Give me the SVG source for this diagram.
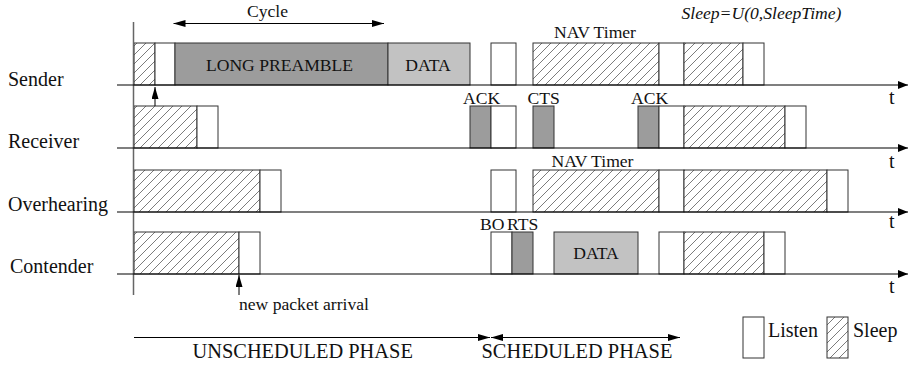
<svg xmlns="http://www.w3.org/2000/svg" width="909" height="366" viewBox="0 0 909 366">
<style>
  text { font-family: "Liberation Serif", "Times New Roman", serif; fill: #111; }
  .lbl { font-size: 20px; }
  .sm { font-size: 17.6px; }
  .box { stroke: #333; stroke-width: 1; }
  .listen { fill: #fff; }
  .sleep { fill: url(#hatch); }
  .dark { fill: #9c9c9c; }
  .light { fill: #c2c2c2; }
  .axis { stroke: #000; stroke-width: 1.2; fill: none; }
  .thin { stroke: #000; stroke-width: 1; fill: none; }
</style>
<defs>
  <pattern id="hatch" patternUnits="userSpaceOnUse" width="9" height="9">
    <rect width="9" height="9" fill="#fff"/>
    <path d="M0,9 L9,0 M-1,1 L1,-1 M8,10 L10,8" stroke="#444" stroke-width="0.7"/>
  </pattern>
  <marker id="ah" viewBox="0 0 10 8" refX="10" refY="4" markerWidth="10" markerHeight="8" markerUnits="userSpaceOnUse" orient="auto">
    <path d="M0,0 L10,4 L0,8 Z" fill="#000"/>
  </marker>
  <marker id="ahs" viewBox="0 0 12 7" refX="12" refY="3.5" markerWidth="12" markerHeight="7" markerUnits="userSpaceOnUse" orient="auto-start-reverse">
    <path d="M0,0 L12,3.5 L0,7 Z" fill="#000"/>
  </marker>
</defs>
<rect width="909" height="366" fill="#fff"/>

<g id="sender">
  <text class="lbl" x="8" y="86">Sender</text>
  <rect class="box sleep" x="134" y="43" width="21" height="42"/>
  <rect class="box listen" x="155" y="43" width="20" height="42"/>
  <rect class="box dark" x="175" y="43" width="213" height="42"/>
  <rect class="box light" x="388" y="43" width="82" height="42"/>
  <rect class="box listen" x="491" y="43" width="25" height="42"/>
  <rect class="box sleep" x="533" y="43" width="126" height="42"/>
  <rect class="box listen" x="659" y="43" width="25" height="42"/>
  <rect class="box sleep" x="684" y="43" width="59" height="42"/>
  <rect class="box listen" x="743" y="43" width="21" height="42"/>
  <text class="sm" x="279.5" y="71" text-anchor="middle">LONG PREAMBLE</text>
  <text class="sm" x="428" y="71" text-anchor="middle">DATA</text>
  <text class="sm" x="554" y="38">NAV Timer</text>
</g>

<g id="receiver">
  <text class="lbl" x="8" y="148">Receiver</text>
  <rect class="box sleep" x="134" y="106" width="63" height="42"/>
  <rect class="box listen" x="197" y="106" width="21" height="42"/>
  <rect class="box dark" x="470" y="106" width="21" height="42"/>
  <rect class="box listen" x="491" y="106" width="25" height="42"/>
  <rect class="box dark" x="533" y="106" width="21" height="42"/>
  <rect class="box dark" x="638" y="106" width="21" height="42"/>
  <rect class="box listen" x="659" y="106" width="25" height="42"/>
  <rect class="box sleep" x="684" y="106" width="101" height="42"/>
  <rect class="box listen" x="785" y="106" width="21" height="42"/>
  <text class="sm" x="463" y="104">ACK</text>
  <text class="sm" x="527.5" y="104">CTS</text>
  <text class="sm" x="631" y="104">ACK</text>
</g>

<g id="overhearing">
  <text class="lbl" x="8" y="211">Overhearing</text>
  <rect class="box sleep" x="134" y="170" width="126" height="42"/>
  <rect class="box listen" x="260" y="170" width="21" height="42"/>
  <rect class="box listen" x="491" y="170" width="25" height="42"/>
  <rect class="box sleep" x="533" y="170" width="126" height="42"/>
  <rect class="box listen" x="659" y="170" width="25" height="42"/>
  <rect class="box sleep" x="684" y="170" width="143" height="42"/>
  <rect class="box listen" x="827" y="170" width="21" height="42"/>
  <text class="sm" x="551.5" y="167">NAV Timer</text>
</g>

<g id="contender">
  <text class="lbl" x="10" y="272.5">Contender</text>
  <rect class="box sleep" x="134" y="232" width="105" height="42"/>
  <rect class="box listen" x="239" y="232" width="21" height="42"/>
  <rect class="box listen" x="491" y="232" width="21" height="42"/>
  <rect class="box dark" x="512" y="232" width="21" height="42"/>
  <rect class="box light" x="554" y="232" width="84" height="42"/>
  <rect class="box listen" x="659" y="232" width="25" height="42"/>
  <rect class="box sleep" x="684" y="232" width="80" height="42"/>
  <rect class="box listen" x="764" y="232" width="21" height="42"/>
  <text class="sm" x="480" y="229.5">BO</text>
  <text class="sm" x="507" y="229.5">RTS</text>
  <text class="sm" x="596" y="258.5" text-anchor="middle">DATA</text>
</g>

<g id="legend">
  <rect class="box listen" x="743" y="317" width="21" height="41"/>
  <text class="lbl" x="768" y="337">Listen</text>
  <rect class="box sleep" x="827" y="317" width="21" height="41"/>
  <text class="lbl" x="853" y="337">Sleep</text>
</g>

<g id="annotations">
  <text class="sm" x="267.5" y="17" text-anchor="middle">Cycle</text>
  <text class="sm" x="681.5" y="18.5" font-style="italic">Sleep=U(0,SleepTime)</text>
  <text class="sm" x="239" y="309.5">new packet arrival</text>
  <text style="font-size:20.4px" x="192.5" y="357.5">UNSCHEDULED PHASE</text>
  <text style="font-size:20.4px" x="481.5" y="357.5">SCHEDULED PHASE</text>
  <text class="lbl" x="889" y="104">t</text>
  <text class="lbl" x="889" y="168">t</text>
  <text class="lbl" x="889" y="228">t</text>
  <text class="lbl" x="889" y="293">t</text>
</g>

<g id="connectors">
  <line x1="133.5" y1="22" x2="133.5" y2="295" stroke="#666" stroke-width="1.5"/>
  <line class="axis" x1="117" y1="85" x2="908" y2="85" marker-end="url(#ah)"/>
  <line class="axis" x1="117" y1="148" x2="908" y2="148" marker-end="url(#ah)"/>
  <line class="axis" x1="117" y1="212" x2="908" y2="212" marker-end="url(#ah)"/>
  <line class="axis" x1="117" y1="274" x2="908" y2="274" marker-end="url(#ah)"/>
  <line class="thin" x1="173.5" y1="23.5" x2="384" y2="23.5" marker-start="url(#ahs)" marker-end="url(#ahs)"/>
  <line class="thin" x1="155" y1="106" x2="155" y2="87" marker-end="url(#ahs)"/>
  <line class="thin" x1="239" y1="295" x2="239" y2="275" marker-end="url(#ahs)"/>
  <line class="thin" x1="134" y1="337.5" x2="490" y2="337.5" marker-end="url(#ahs)"/>
  <line class="thin" x1="491" y1="337.5" x2="680" y2="337.5" marker-start="url(#ahs)" marker-end="url(#ahs)"/>
</g>
</svg>
